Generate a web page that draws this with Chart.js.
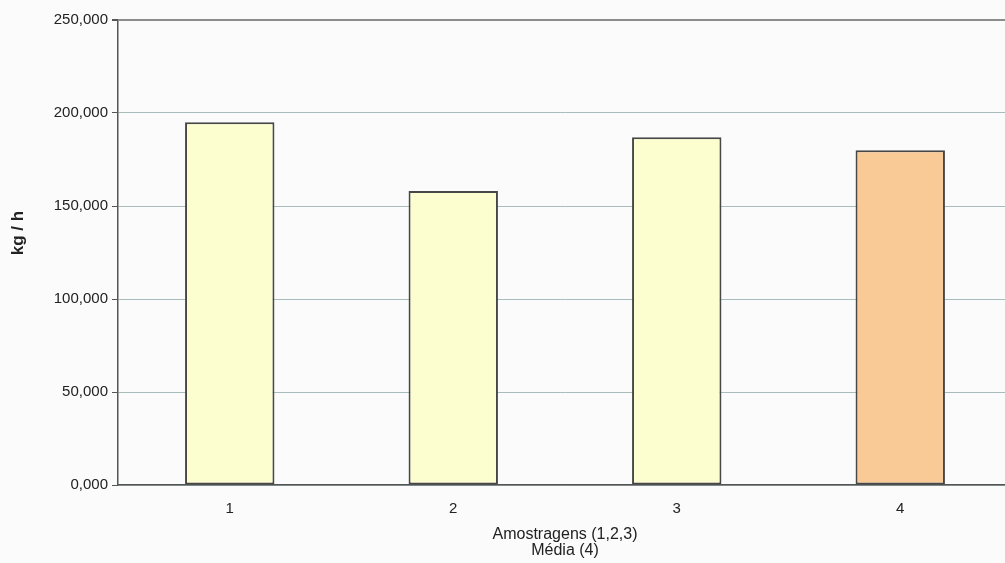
<!DOCTYPE html>
<html>
<head>
<meta charset="utf-8">
<script src="https://cdn.jsdelivr.net/npm/chart.js@4/dist/chart.umd.min.js"></script>
<style>
  html, body { margin: 0; padding: 0; background: #fbfbfb; overflow: hidden; }
  #wrap { width: 1005px; height: 563px; overflow: hidden; }
  canvas { display: block; }
</style>
</head>
<body>
<div id="wrap"><canvas id="c" width="1012" height="563"></canvas></div>
<script>
// Sample labels and measured throughput (kg/h)
const categories = ['1', '2', '3', '4'];
const throughput = [195000, 158000, 187000, 180000];
const barColors = ['#FDFECF', '#FDFECF', '#FDFECF', '#F9CA96'];
const yTickValues = [0, 50000, 100000, 150000, 200000, 250000];
const yTickLabels = ['0,000', '50,000', '100,000', '150,000', '200,000', '250,000'];
const yTitle = 'kg / h';
const xTitle = ['Amostragens (1,2,3)', 'Média (4)'];

const FONT = '"Liberation Sans", Arial, sans-serif';

// Rotated caption for the value axis
const yCaption = {
  id: 'yCaption',
  afterDraw(chart) {
    const ctx = chart.ctx;
    ctx.save();
    ctx.translate(18, 233);
    ctx.rotate(-Math.PI / 2);
    ctx.font = 'bold 17px ' + FONT;
    ctx.fillStyle = '#222';
    ctx.textAlign = 'center';
    ctx.textBaseline = 'middle';
    ctx.fillText(yTitle, 0, 0);
    ctx.restore();
  }
};

new Chart(document.getElementById('c'), {
  type: 'bar',
  data: {
    labels: categories,
    datasets: [{
      data: throughput,
      backgroundColor: barColors,
      borderColor: '#474747',
      borderWidth: 2,
      borderSkipped: false,
      barPercentage: 0.4,
      categoryPercentage: 1.0
    }]
  },
  options: {
    responsive: false,
    animation: false,
    layout: { padding: { top: 20, left: 0, right: 0, bottom: 0 } },
    plugins: {
      legend: { display: false },
      tooltip: { enabled: false }
    },
    scales: {
      x: {
        offset: true,
        grid: { display: false },
        border: { display: true, color: '#555', width: 1.5 },
        ticks: {
          color: '#222',
          font: { family: FONT, size: 15 },
          padding: 7
        },
        title: {
          display: true,
          text: xTitle,
          color: '#222',
          font: { family: FONT, size: 16, lineHeight: 0.97 },
          padding: { top: 0, bottom: 5 }
        },
        afterFit(scale) { scale.height = 78; }
      },
      y: {
        min: 0,
        max: 250000,
        afterBuildTicks(scale) {
          scale.ticks = yTickValues.map(v => ({ value: v }));
        },
        grid: {
          color: c => (c.tick && c.tick.value === 250000) ? '#8c8c8c' : '#a9bcbc',
          lineWidth: c => (c.tick && c.tick.value === 250000) ? 2 : 1,
          tickColor: '#555',
          tickLength: 6,
          drawTicks: true
        },
        border: { display: true, color: '#555', width: 1.5 },
        ticks: {
          color: '#222',
          font: { family: FONT, size: 15 },
          padding: 4,
          callback: (v) => {
            const i = yTickValues.indexOf(v);
            return i >= 0 ? yTickLabels[i] : '';
          }
        },
        afterFit(scale) { scale.width = 118; }
      }
    }
  },
  plugins: [yCaption]
});
</script>
</body>
</html>
